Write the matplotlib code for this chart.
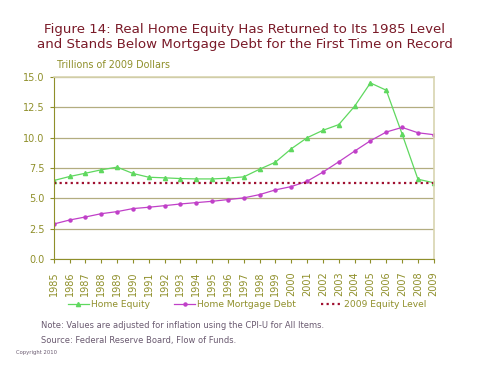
import matplotlib
matplotlib.use("Agg")
import matplotlib.pyplot as plt

# data (trillions of 2009 dollars)
years = list(range(1985, 2010))
home_equity = [6.47, 6.80, 7.07, 7.35, 7.57, 7.05, 6.74, 6.69, 6.63, 6.60,
               6.60, 6.66, 6.77, 7.40, 7.98, 9.08, 9.99, 10.60, 11.07, 12.58,
               14.50, 13.90, 10.30, 6.58, 6.28]
mortgage_debt = [2.89, 3.22, 3.47, 3.74, 3.91, 4.16, 4.27, 4.40, 4.54, 4.65,
                 4.76, 4.90, 5.04, 5.31, 5.70, 5.97, 6.41, 7.16, 8.01, 8.89,
                 9.74, 10.46, 10.84, 10.40, 10.24]
equity_2009 = 6.28
y_ticks = [0.0, 2.5, 5.0, 7.5, 10.0, 12.5, 15.0]

title = ("Figure 14: Real Home Equity Has Returned to Its 1985 Level\n"
         "and Stands Below Mortgage Debt for the First Time on Record")
note_lines = ["Note: Values are adjusted for inflation using the CPI-U for All Items.",
              "Source: Federal Reserve Board, Flow of Funds."]

olive = "#8f8f2a"
grid_col = "#b3ad80"
green = "#5fd85f"
purple = "#c040c8"
red = "#a01030"

fig = plt.figure(figsize=(4.89, 3.66), dpi=100)
ax = fig.add_axes([0.110, 0.292, 0.777, 0.498])

ax.plot(years, home_equity, color=green, lw=0.9, marker="^", ms=3,
        label="Home Equity")
ax.plot(years, mortgage_debt, color=purple, lw=0.9, marker="o", ms=2.2,
        label="Home Mortgage Debt")
ax.plot([years[0], years[-1]], [equity_2009, equity_2009], color=red, lw=1.6,
        ls=(0, (1.0, 1.5)), label="2009 Equity Level")

ax.set_xlim(years[0], years[-1])
ax.set_ylim(0, 15)
ax.set_yticks(y_ticks)
ax.set_yticklabels(["%.1f" % v for v in y_ticks])
ax.set_xticks(years)
ax.set_xticklabels([str(y) for y in years], rotation=90)
ax.tick_params(axis="both", colors=olive, labelsize=7, length=3, width=0.8)
ax.tick_params(axis="x", pad=6)
ax.yaxis.grid(True, color=grid_col, lw=0.9)
ax.set_axisbelow(True)
for side in ["left", "bottom"]:
    ax.spines[side].set_color(olive)
    ax.spines[side].set_linewidth(0.8)
for side in ["top", "right"]:
    ax.spines[side].set_color("#d8d4b0")
    ax.spines[side].set_linewidth(1.2)

fig.text(0.5, 0.936, title, ha="center", va="top", color="#7a1a28",
         fontsize=9.6, linespacing=1.2)
fig.text(0.117, 0.808, "Trillions of 2009 Dollars", color=olive, fontsize=6.9,
         va="bottom")

leg = fig.legend(loc="center", bbox_to_anchor=(0.505, 0.168), ncol=3,
                 frameon=False, fontsize=6.6, handlelength=2.3,
                 handletextpad=0.2, columnspacing=2.7)
for t in leg.get_texts():
    t.set_color(olive)

fig.text(0.084, 0.112, note_lines[0], color="#6a5a70", fontsize=6.0, va="center")
fig.text(0.084, 0.071, note_lines[1], color="#6a5a70", fontsize=6.0, va="center")
fig.text(0.033, 0.037, "Copyright 2010", color="#6a5a70", fontsize=3.8, va="center")

fig.savefig("out.png", dpi=100, facecolor="white")
